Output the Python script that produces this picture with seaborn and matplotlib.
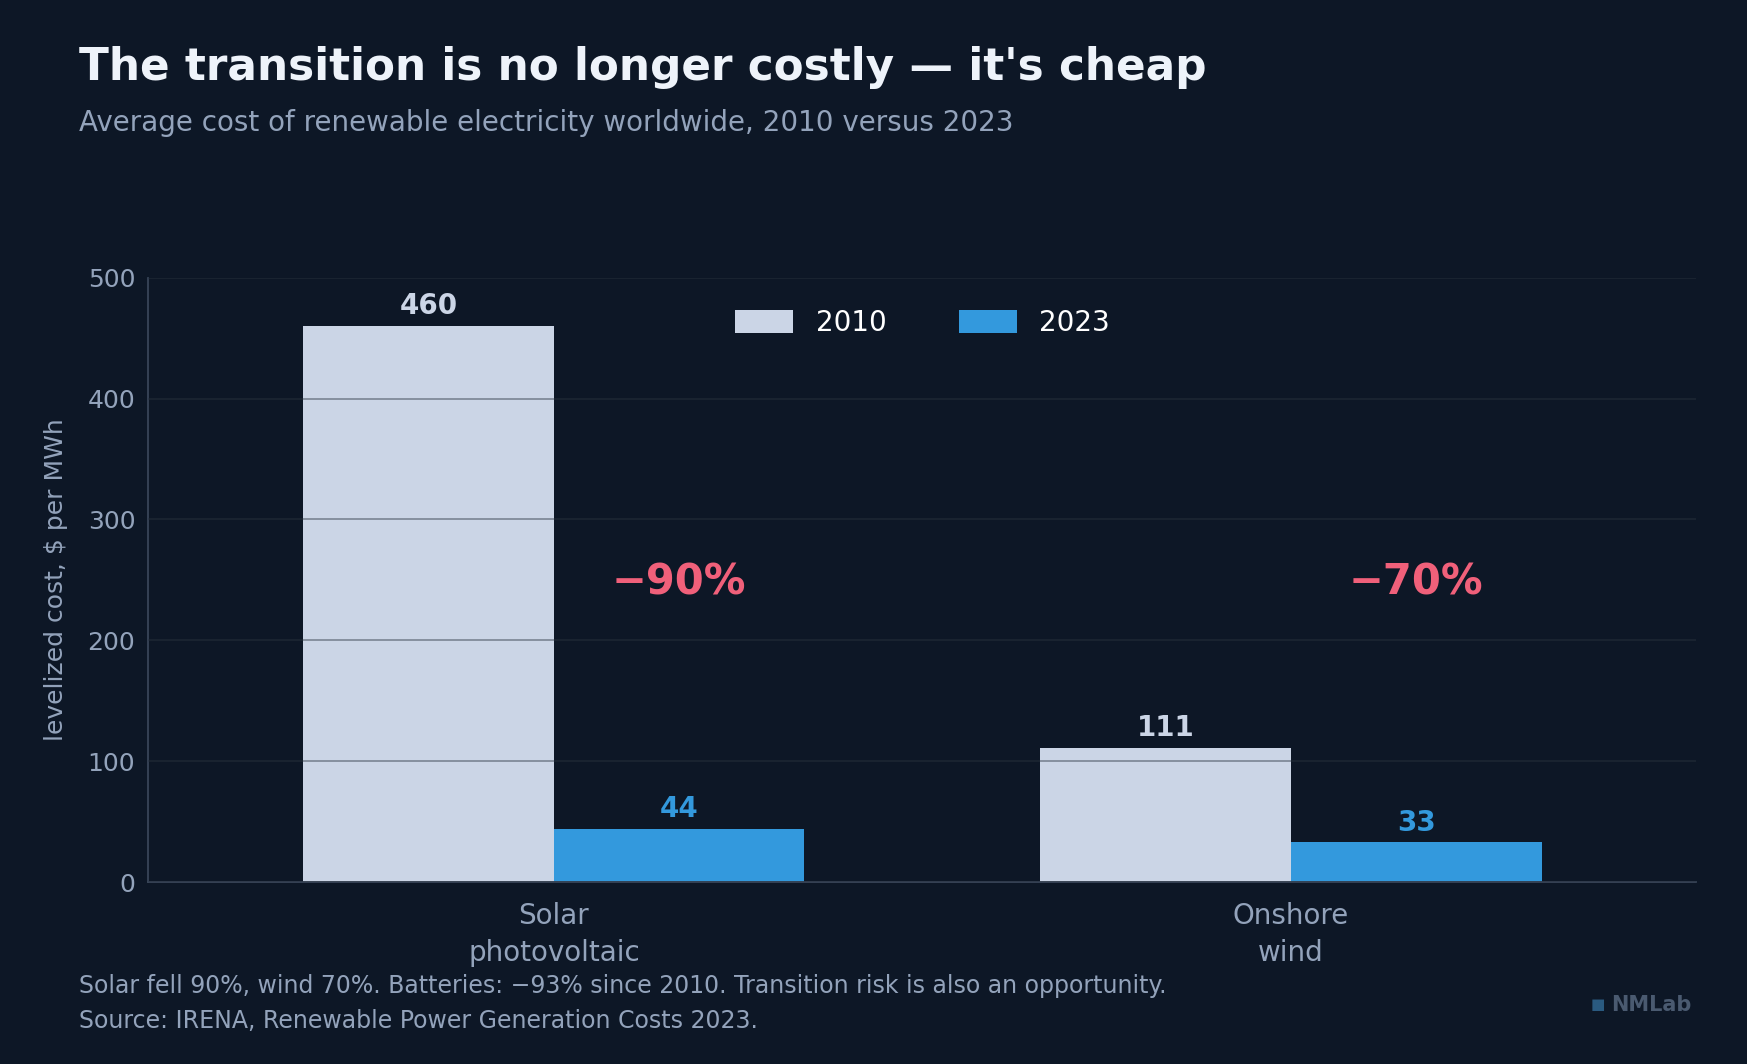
import matplotlib
matplotlib.use("Agg")
import matplotlib.pyplot as plt
import seaborn as sns
import pandas as pd

technologies = ["Solar\nphotovoltaic", "Onshore\nwind"]
years = ["2010", "2023"]
cost_2010 = [460, 111]
cost_2023 = [44, 33]
drops = ["\u221290%", "\u221270%"]

bg = "#0d1726"
c2010 = "#cbd5e6"
c2023 = "#3399dd"
muted = "#93a3bb"

sns.set_theme(style="dark")
plt.rcParams["font.family"] = ["DejaVu Sans"]

df = pd.DataFrame({
    "tech": technologies * 2,
    "year": [years[0]] * 2 + [years[1]] * 2,
    "cost": cost_2010 + cost_2023,
})

fig = plt.figure(figsize=(17.47, 10.64), dpi=100, facecolor=bg)
ax = fig.add_axes([0.085, 0.171, 0.886, 0.568], facecolor=bg)

sns.barplot(data=df, x="tech", y="cost", hue="year", hue_order=years,
            palette=[c2010, c2023], width=0.68, saturation=1, ax=ax,
            edgecolor="none")

# grid drawn over the bars, as in the original
ax.set_axisbelow(False)
ax.yaxis.grid(True, color="#2a3440", alpha=0.5, linewidth=1.2)
ax.xaxis.grid(False)
ax.set_ylim(0, 500)
ax.set_xlim(-0.55, 1.55)
ax.set_yticks(range(0, 501, 100))
ax.set_xlabel("")
ax.set_ylabel("levelized cost, $ per MWh", color=muted, fontsize=18, labelpad=14)
ax.tick_params(axis="both", colors=muted, labelsize=18, length=6, width=1)
ax.tick_params(axis="x", labelsize=20, pad=8)
ax.tick_params(axis="y", color="#3a475a")
ax.tick_params(axis="x", color="#3a475a")
for lbl in ax.get_xticklabels():
    lbl.set_linespacing(1.45)
for s in ["top", "right"]:
    ax.spines[s].set_visible(False)
for s in ["left", "bottom"]:
    ax.spines[s].set_color("#3a475a")

for cont, col in zip(ax.containers, [c2010, c2023]):
    ax.bar_label(cont, labels=[f"{v:.0f}" for v in cont.datavalues],
                 color=col, fontsize=20, fontweight="bold", padding=4)

for i, d in enumerate(drops):
    ax.text(i + 0.17, 248, d, color="#f0607a", fontsize=30,
            fontweight="bold", ha="center", va="center")

leg = ax.legend(loc="upper center", bbox_to_anchor=(0.5, 0.99), ncol=2,
                frameon=False, fontsize=20, labelcolor="white",
                handlelength=2.1, handleheight=0.9, columnspacing=2.6)

fig.text(0.045, 0.937, "The transition is no longer costly \u2014 it's cheap",
         color="#eef3fa", fontsize=31.5, fontweight="bold", va="center")
fig.text(0.045, 0.884, "Average cost of renewable electricity worldwide, 2010 versus 2023",
         color=muted, fontsize=20, va="center")
fig.text(0.045, 0.073, "Solar fell 90%, wind 70%. Batteries: \u221293% since 2010. Transition risk is also an opportunity.",
         color=muted, fontsize=17, va="center")
fig.text(0.045, 0.040, "Source: IRENA, Renewable Power Generation Costs 2023.",
         color=muted, fontsize=17, va="center")
fig.text(0.968, 0.055, "NMLab", color="#4a5a70", fontsize=15,
         fontweight="bold", ha="right", va="center")
fig.text(0.919, 0.056, "\u25a0", color="#2a5a80", fontsize=11,
         ha="right", va="center")

fig.savefig("out.png", dpi=100, facecolor=bg)
